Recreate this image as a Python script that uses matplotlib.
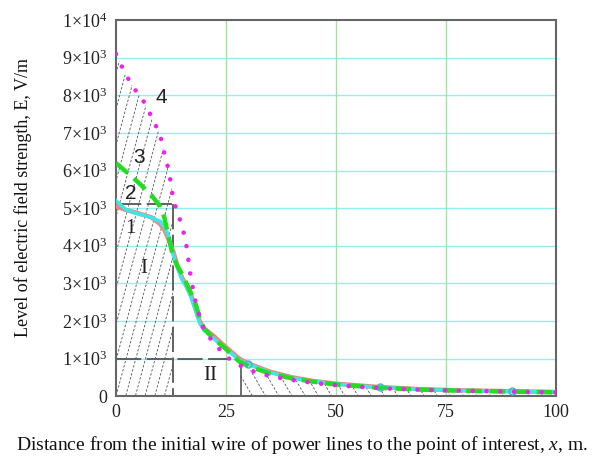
import matplotlib
matplotlib.use("Agg")
import matplotlib.pyplot as plt
import numpy as np
from matplotlib.patches import PathPatch
from matplotlib.ticker import FuncFormatter

plt.rcParams["font.family"] = ["Liberation Serif", "DejaVu Serif"]
plt.rcParams["mathtext.fontset"] = "custom"
plt.rcParams["mathtext.rm"] = "Liberation Serif"
plt.rcParams["mathtext.it"] = "Liberation Serif:italic"

# distance from the initial wire, m
x = [0, 2, 4, 6, 8, 10, 11, 12, 13, 14, 15, 16, 17, 18, 19, 20, 22, 25, 28,
     30, 35, 40, 45, 50, 60, 70, 80, 90, 100]

# field strength, V/m, curves 1..4
e1 = [5050, 4960, 4900, 4830, 4760, 4580, 4420, 4150, 3850, 3450, 3150, 2950,
      2700, 2350, 2000, 1800, 1620, 1300, 1000, 870, 650, 500, 400, 330, 240,
      180, 150, 130, 110]
e2 = [5200, 4980, 4880, 4820, 4750, 4650, 4500, 4250, 3750, 3400, 3100, 2900,
      2650, 2300, 1950, 1750, 1550, 1250, 960, 850, 630, 480, 390, 320, 230,
      175, 145, 125, 105]
e3 = [6200, 6000, 5800, 5580, 5350, 5050, 4750, 4200, 3700, 3450, 3250, 3000,
      2750, 2480, 2100, 1800, 1550, 1250, 920, 800, 600, 470, 380, 310, 220,
      170, 140, 120, 100]
e4 = [9100, 8600, 8200, 7900, 7450, 6960, 6450, 6000, 5250, 4850, 4550, 4000,
      3150, 2550, 2100, 1750, 1450, 1050, 830, 700, 530, 430, 350, 290, 210,
      165, 140, 120, 100]

marker_x = [30, 60, 90]

# zone boundaries
zone1_x = 13
zone1_top = 5100
zone2_x = 28.3
limit_e = 1000

curve_labels = ["1", "2", "3", "4"]
label_pos = [(3.3, 4450), (3.3, 5400), (5.3, 6350), (10.4, 7950)]
zone_labels = ["I", "II"]
zone_pos = [(6.2, 3400), (21.4, 560)]

fig = plt.figure(figsize=(5.98, 4.59), dpi=100)
ax = fig.add_axes([0.194, 0.137, 0.736, 0.819])

ax.set_xlim(0, 100)
ax.set_ylim(0, 10000)
ax.set_xticks([0, 25, 50, 75, 100])
ax.set_yticks(np.arange(0, 10001, 1000))

for yv in np.arange(1000, 10000, 1000):
    ax.axhline(yv, color="#8ef2f2", lw=1.0, zorder=0)
for xv in [25, 50, 75]:
    ax.axvline(xv, color="#9ae89a", lw=1.0, zorder=0)


def hatch(xs, ys, slope, step, start, stop):
    poly = ax.fill_between(xs, 0, ys, facecolor="none", edgecolor="none")
    clip = PathPatch(poly.get_paths()[0], transform=ax.transData,
                     facecolor="none", edgecolor="none")
    ax.add_patch(clip)
    xx = np.array([-20.0, 120.0])
    for c in np.arange(start, stop, step):
        ln, = ax.plot(xx, slope * (xx - c), color="#555555", lw=0.6,
                      dashes=(3, 2), zorder=1)
        ln.set_clip_path(clip)


xa = np.array(x, dtype=float)
ea4 = np.array(e4, dtype=float)
m = xa <= zone1_x
hatch(xa[m], ea4[m], 434.0, 2.2, -22, 14)
m2 = xa >= zone2_x
hatch(np.r_[zone2_x, xa[m2]], np.r_[np.interp(zone2_x, xa, ea4), ea4[m2]],
      -200.0, 3.0, 28, 110)

# zone outlines
ax.plot([0, zone1_x + 0.4], [zone1_top, zone1_top], color="#555555", lw=1.3,
        dashes=(14, 3), zorder=2)
ax.plot([zone1_x, zone1_x], [zone1_top, 0], color="#555555", lw=1.3,
        dashes=(14, 3), zorder=2)
ax.plot([0, 26], [limit_e, limit_e], color="#555555", lw=1.3,
        dashes=(14, 3), zorder=2)
ax.plot([zone2_x, zone2_x], [0, limit_e], color="#555555", lw=1.2, zorder=2)

ax.plot(x, e1, color="#f4857c", lw=3.2, zorder=3, solid_capstyle="round")
ax.plot(x, e2, color="#3ee6e6", lw=2.6, zorder=4)
ax.plot(marker_x, np.interp(marker_x, x, e2), ls="none", marker="o", ms=5,
        mfc="none", mec="#3ab8c8", mew=1.0, zorder=6)
ax.plot(x, e3, color="#22dd22", lw=3.2, dashes=(3.5, 1.8), zorder=5)
ax.plot(x, e4, color="#ee22ee", lw=3.3, dashes=(0.01, 3.0),
        dash_capstyle="round", zorder=6)

for t, (px, py) in zip(curve_labels, label_pos):
    fam = "Liberation Serif" if t == "1" else "Liberation Sans"
    ax.text(px, py, t, fontsize=15, family=fam, ha="center", va="center",
            color="#222222", zorder=7)
for t, (px, py) in zip(zone_labels, zone_pos):
    ax.text(px, py, t, fontsize=15, ha="center", va="center",
            color="#222222", zorder=7)


def fmt(v, pos):
    if v == 0:
        return "0"
    if v >= 10000:
        return r"$1{\times}10^{4}$"
    return r"$%d{\times}10^{3}$" % round(v / 1000)


ax.yaxis.set_major_formatter(FuncFormatter(fmt))
ax.tick_params(length=0, labelsize=13, pad=6, colors="#222222")
for s in ax.spines.values():
    s.set_color("#666666")
    s.set_linewidth(1.5)

fig.text(0.505, 0.03, r"Distance from the initial wire of power lines to the point of interest, $\mathit{x}$, m.",
         fontsize=14, ha="center", va="center", color="#111111")
fig.text(0.038, 0.569, "Level of electric field strength, E, V/m", fontsize=13,
         rotation=90, ha="center", va="center", color="#111111")

fig.savefig("out.png", dpi=100)
